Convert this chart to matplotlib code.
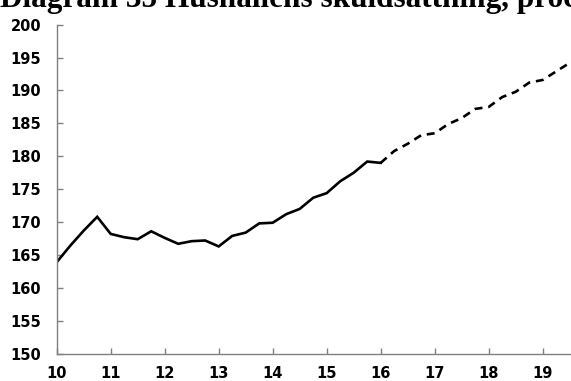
import matplotlib
matplotlib.use("Agg")
import matplotlib.pyplot as plt
import numpy as np

# Household debt ratio, quarterly, outcome and forecast
outcome_x = [10.0, 10.25, 10.5, 10.75, 11.0, 11.25, 11.5, 11.75, 12.0, 12.25, 12.5, 12.75,
             13.0, 13.25, 13.5, 13.75, 14.0, 14.25, 14.5, 14.75, 15.0, 15.25, 15.5, 15.75, 16.0]
outcome_y = [163.9, 166.4, 168.7, 170.8, 168.2, 167.7, 167.4, 168.6, 167.6, 166.7, 167.1, 167.2,
             166.3, 167.9, 168.4, 169.8, 169.9, 171.2, 172.0, 173.7, 174.4, 176.2, 177.5, 179.2, 179.0]

forecast_x = [16.0, 16.25, 16.5, 16.75, 17.0, 17.25, 17.5, 17.75, 18.0, 18.25, 18.5, 18.75,
              19.0, 19.25, 19.5]
forecast_y = [179.0, 180.8, 181.9, 183.2, 183.5, 184.9, 185.8, 187.2, 187.5, 189.0, 189.8, 191.2,
              191.6, 192.9, 194.2]

x_ticks = [10, 11, 12, 13, 14, 15, 16, 17, 18, 19]
y_ticks = [150, 155, 160, 165, 170, 175, 180, 185, 190, 195, 200]

title = "Diagram 35 Hushållens skuldsättning, procent av disponibel inkomst"

fig = plt.figure(figsize=(5.71, 3.81), dpi=100)
ax = fig.add_axes([0.0993, 0.0717, 0.8984, 0.8635])

ax.plot(outcome_x, outcome_y, color="black", lw=1.9, solid_joinstyle="miter")
ax.plot(forecast_x, forecast_y, color="black", lw=1.9, dashes=(3.0, 2.2))

ax.set_xlim(10, 19.5)
ax.set_ylim(150, 200)
ax.set_xticks(x_ticks)
ax.set_yticks(y_ticks)
ax.set_xticklabels([str(t) for t in x_ticks])

for side in ("top", "right"):
    ax.spines[side].set_visible(False)
for side in ("left", "bottom"):
    ax.spines[side].set_color("#808080")
    ax.spines[side].set_linewidth(1.0)

ax.tick_params(axis="both", direction="in", length=4, width=1.0, color="#808080",
               labelsize=10.5, labelcolor="black")
ax.tick_params(axis="y", pad=11)
ax.tick_params(axis="x", pad=9)
for lab in ax.get_xticklabels() + ax.get_yticklabels():
    lab.set_fontweight("bold")
    lab.set_family("DejaVu Sans")

fig.text(0.0, 1 - 7.5 / 381, title, ha="left", va="baseline",
         fontsize=22.5, fontweight="bold", family="Liberation Serif")

fig.savefig("out.png", dpi=100)
